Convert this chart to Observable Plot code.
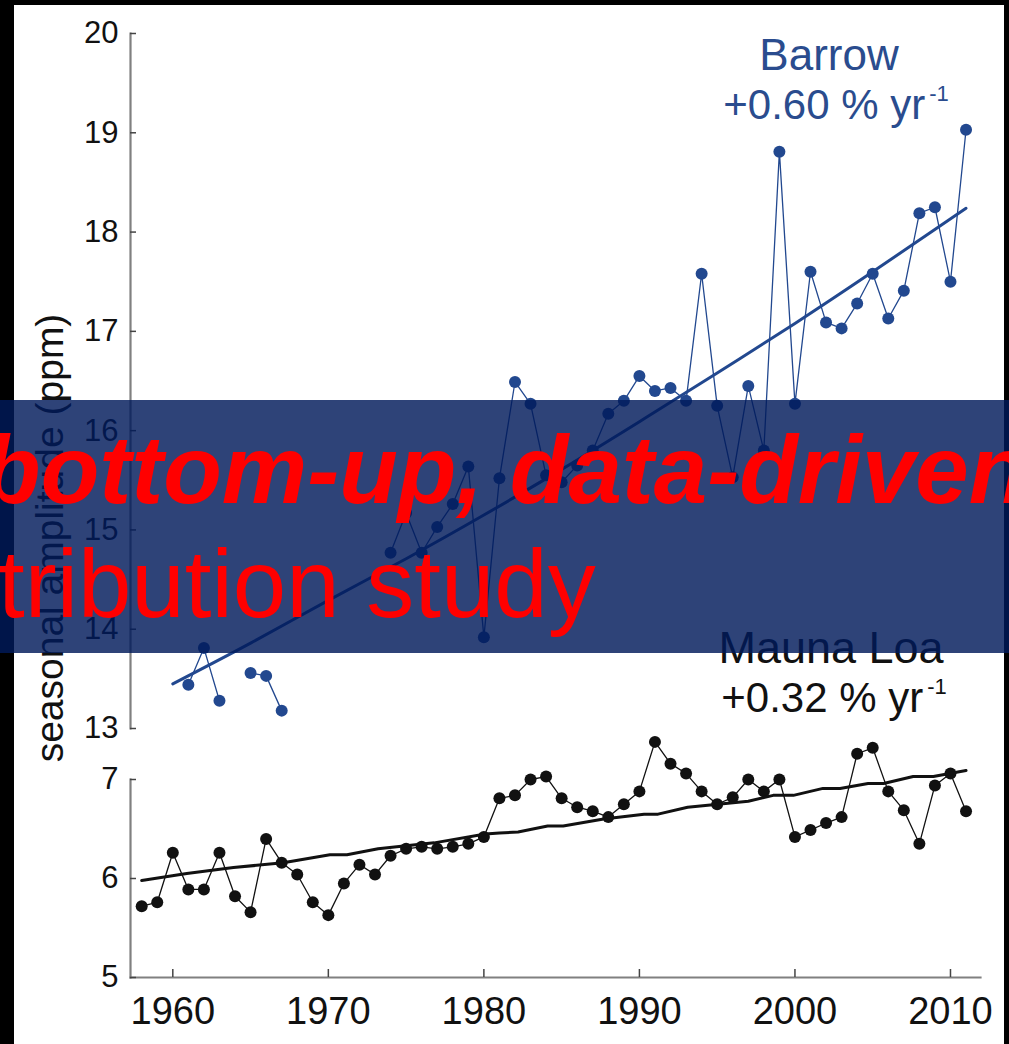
<!DOCTYPE html>
<html>
<head>
<meta charset="utf-8">
<script src="https://cdn.jsdelivr.net/npm/d3@7"></script>
<script src="https://cdn.jsdelivr.net/npm/@observablehq/plot@0.6"></script>
<style>
  html, body { margin: 0; padding: 0; background: #000; }
  #root { position: relative; width: 1009px; height: 1044px; overflow: hidden; background: #000;
          font-family: "Liberation Sans", Arial, Helvetica, sans-serif; }
  #paper { position: absolute; left: 14px; top: 5px; width: 990px; height: 1039px; background: #fff; }
  .panel { position: absolute; left: 0; top: 0; }
  .ann { position: absolute; white-space: nowrap; transform: translateX(-50%); }
  .sup { position: relative; top: -18px; font-size: 22px; margin-left: 4px; }
  #ylabel { position: absolute; left: 30px; top: 538px; font-size: 39px; line-height: 39px; color: #111;
            white-space: nowrap; transform-origin: 0 0; transform: rotate(-90deg) translateX(-50%); }
  #banner { position: absolute; left: 0; top: 400px; width: 1009px; height: 253px; background: rgba(0, 26, 90, 0.82); }
  .bt { position: absolute; white-space: nowrap; color: #ff0000; font-size: 96px; line-height: 96px; }
</style>
</head>
<body>
<div id="root">
  <div id="paper"></div>
</div>
<script>
// ---- data ----
const years = [1958,1959,1960,1961,1962,1963,1964,1965,1966,1967,
               1968,1969,1970,1971,1972,1973,1974,1975,1976,1977,
               1978,1979,1980,1981,1982,1983,1984,1985,1986,1987,
               1988,1989,1990,1991,1992,1993,1994,1995,1996,1997,
               1998,1999,2000,2001,2002,2003,2004,2005,2006,2007,
               2008,2009,2010,2011];

const barrowValues = [null,null,null,13.44,13.81,13.28,null,13.56,13.53,13.18,
                      null,null,null,null,null,null,14.77,15.17,14.77,15.03,
                      15.26,15.64,13.92,15.52,16.49,16.27,15.55,15.48,15.65,15.80,
                      16.17,16.30,16.55,16.40,16.43,16.30,17.58,16.25,15.53,16.45,
                      15.80,18.81,16.27,17.60,17.09,17.03,17.28,17.58,17.13,17.41,
                      18.19,18.25,17.50,19.03];

const maunaValues = [5.72,5.76,6.26,5.89,5.89,6.26,5.82,5.66,6.40,6.16,
                     6.04,5.76,5.63,5.95,6.14,6.04,6.23,6.30,6.32,6.30,
                     6.32,6.35,6.42,6.81,6.84,7.00,7.03,6.81,6.72,6.68,
                     6.62,6.75,6.88,7.38,7.16,7.06,6.88,6.75,6.82,7.00,
                     6.88,7.00,6.42,6.49,6.56,6.62,7.26,7.32,6.88,6.69,
                     6.35,6.94,7.06,6.68];

const barrowTrendYears  = [1960, 1965, 1970, 1975, 1980, 1985, 1990, 1995, 2000, 2005, 2011];
const barrowTrendValues = [13.45, 13.86, 14.29, 14.71, 15.15, 15.61, 16.09, 16.58, 17.08, 17.60, 18.24];

const maunaTrendYears  = [1958,1960.9,1963.9,1967.1,1970.1,1971.2,1973.2,1976.8,1980.1,1981,1982.2,1984.1,1985.1,1987.7,1990.3,1991.2,1993.1,1997,1998.6,1999.9,2001.8,2002.9,2004.7,2005.7,2007.6,2008.9,2011];
const maunaTrendValues = [5.98,6.05,6.11,6.16,6.24,6.24,6.30,6.36,6.45,6.46,6.47,6.53,6.53,6.60,6.65,6.65,6.72,6.78,6.84,6.84,6.91,6.91,6.96,6.96,7.03,7.03,7.09];

const xTicks = [1960,1970,1980,1990,2000,2010];
const barrowTicks = [13,14,15,16,17,18,19,20];
const maunaTicks = [5,6,7];

const barrowLabel = "Barrow";
const barrowRate = "+0.60 % yr";
const maunaLabel = "Mauna Loa";
const maunaRate = "+0.32 % yr";
const rateExponent = "-1";
const yLabel = "seasonal amplitude (ppm)";
const bannerLine1 = "bottom-up, data-driven";
const bannerLine2 = "tribution study";

// ---- build ----
const W = 1009, H = 1044;
const xDomain = [1957.28, 2011.93];
const blue = "#22488f";
const axisGray = "#808080";
const tickColor = "#444";
const font = "'Liberation Sans', Arial, Helvetica, sans-serif";

const barrowRows = years.map((year, i) => ({year, value: barrowValues[i]}));
const maunaRows = years.map((year, i) => ({year, value: maunaValues[i]}));
const barrowTrend = barrowTrendYears.map((year, i) => ({year, value: barrowTrendValues[i]}));
const maunaTrend = maunaTrendYears.map((year, i) => ({year, value: maunaTrendValues[i]}));

const common = {
  width: W, height: H,
  marginLeft: 130, marginRight: 29,
  style: {background: "transparent", fontFamily: font, color: "#111", overflow: "visible"}
};

const topPlot = Plot.plot({
  ...common,
  marginTop: 33, marginBottom: H - 728,
  x: {domain: xDomain, axis: null},
  y: {domain: [13, 20], axis: null},
  marks: [
    Plot.frame({anchor: "left", stroke: axisGray, strokeWidth: 2.2}),
    Plot.axisY({ticks: barrowTicks, tickSize: -6, fill: "none", stroke: tickColor, strokeWidth: 1.5, label: null}),
    Plot.axisY({ticks: barrowTicks, tickSize: 0, tickPadding: 12, fontSize: 31, fill: "#111", label: null, tickFormat: d => String(d)}),
    Plot.line(barrowRows, {x: "year", y: "value", stroke: blue, strokeWidth: 1.3}),
    Plot.dot(barrowRows.filter(d => d.value != null), {x: "year", y: "value", r: 6, fill: blue}),
    Plot.line(barrowTrend, {x: "year", y: "value", stroke: blue, strokeWidth: 3, curve: "natural"})
  ]
});

const bottomPlot = Plot.plot({
  ...common,
  marginTop: 779, marginBottom: H - 977,
  x: {domain: xDomain, axis: null},
  y: {domain: [5, 7], axis: null},
  marks: [
    Plot.frame({anchor: "left", stroke: axisGray, strokeWidth: 2.2}),
    Plot.frame({anchor: "bottom", stroke: axisGray, strokeWidth: 2.2}),
    Plot.axisY({ticks: maunaTicks, tickSize: -6, fill: "none", stroke: tickColor, strokeWidth: 1.5, label: null}),
    Plot.axisY({ticks: maunaTicks, tickSize: 0, tickPadding: 12, fontSize: 31, fill: "#111", label: null, tickFormat: d => String(d)}),
    Plot.axisX({ticks: xTicks, tickSize: -8, fill: "none", stroke: tickColor, strokeWidth: 1.5, label: null}),
    Plot.axisX({ticks: xTicks, tickSize: 0, tickPadding: 20, fontSize: 38, fill: "#111", label: null, tickFormat: d => String(d)}),
    Plot.line(maunaRows, {x: "year", y: "value", stroke: "#111", strokeWidth: 1.3}),
    Plot.dot(maunaRows, {x: "year", y: "value", r: 6, fill: "#111"}),
    Plot.line(maunaTrend, {x: "year", y: "value", stroke: "#111", strokeWidth: 3})
  ]
});

const root = document.getElementById("root");
for (const p of [topPlot, bottomPlot]) {
  p.classList.add("panel");
  root.appendChild(p);
}

function ann(text, x, baseline, size, color, withSup) {
  const d = document.createElement("div");
  d.className = "ann";
  d.style.left = x + "px";
  d.style.top = (baseline - 0.8465 * size) + "px";
  d.style.fontSize = size + "px";
  d.style.lineHeight = size + "px";
  d.style.color = color;
  d.textContent = text;
  if (withSup) {
    const s = document.createElement("span");
    s.className = "sup";
    s.textContent = rateExponent;
    d.appendChild(s);
  }
  root.appendChild(d);
}
ann(barrowLabel, 829, 70, 44, "#2a4c8e", false);
ann(barrowRate, 836, 120, 42, "#2a4c8e", true);
ann(maunaLabel, 831, 663, 45, "#111", false);
ann(maunaRate, 834, 713, 42, "#111", true);

const yl = document.createElement("div");
yl.id = "ylabel";
yl.textContent = yLabel;
root.appendChild(yl);

const banner = document.createElement("div");
banner.id = "banner";
root.appendChild(banner);

function bannerText(text, left, baseline, style) {
  const d = document.createElement("div");
  d.className = "bt";
  d.style.left = left + "px";
  d.style.top = (baseline - 0.8465 * 96) + "px";
  Object.assign(d.style, style);
  d.textContent = text;
  root.appendChild(d);
}
bannerText(bannerLine1, -18, 503, {fontWeight: "bold", fontStyle: "italic"});
bannerText(bannerLine2, -2, 617, {});
</script>
</body>
</html>
